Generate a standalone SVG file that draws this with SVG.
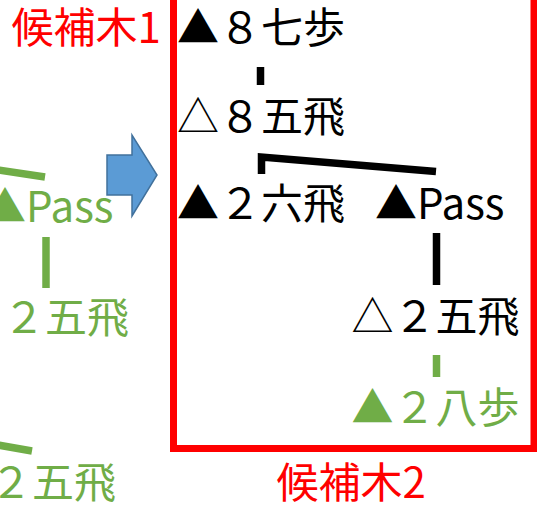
<svg xmlns="http://www.w3.org/2000/svg" width="537" height="509" viewBox="0 0 537 509">
<style>
text{font-family:"Noto Sans CJK JP","Noto Sans",sans-serif;font-size:42px}
.k{fill:#000}.g{fill:#70AD47}.r{fill:#FF0000}
.ck{stroke:#000;stroke-width:7.5;fill:none;stroke-linejoin:miter}
.cg{stroke:#70AD47;stroke-width:7.5;fill:none}
</style>
<rect x="173.5" y="-20" width="360.5" height="468.5" fill="none" stroke="#FF0000" stroke-width="7"/>
<g id="connectors">
<line class="ck" x1="260.5" y1="67" x2="260.5" y2="85"/>
<polyline class="ck" points="261.5,174 261.5,157 436,171.5"/>
<line class="ck" x1="436.5" y1="233" x2="436.5" y2="285"/>
<line class="cg" x1="436.5" y1="355" x2="436.5" y2="377"/>
<line class="cg" x1="-2" y1="170" x2="45" y2="177"/>
<line class="cg" x1="46" y1="237" x2="46" y2="288"/>
<line class="cg" x1="-2" y1="445" x2="32" y2="451"/>
</g>
<g id="arrow">
<polygon points="107,155 132,155 132,135 157,175 132,216 132,195 107,195" fill="#5B9BD5" stroke="#41719C" stroke-width="1.5"/>
</g>
<g id="label1"><text class="r" x="11.5" y="43">候補木1</text></g>
<g id="label2"><text class="r" x="276.5" y="498">候補木2</text></g>
<g id="n1"><text class="k" x="177" y="43">▲８七歩</text></g>
<g id="n2"><text class="k" x="177" y="132">△８五飛</text></g>
<g id="n3"><text class="k" x="177" y="219">▲２六飛</text></g>
<g id="n4"><text class="k" x="375" y="219">▲Pass</text></g>
<g id="n5"><text class="k" x="351.5" y="332">△２五飛</text></g>
<g id="n6"><text class="g" x="351.5" y="423">▲２八歩</text></g>
<g id="g1"><text class="g" x="-16" y="222">▲Pass</text></g>
<g id="g2"><text class="g" x="3" y="333">２五飛</text></g>
<g id="g3"><text class="g" x="-10" y="498">２五飛</text></g>
</svg>
